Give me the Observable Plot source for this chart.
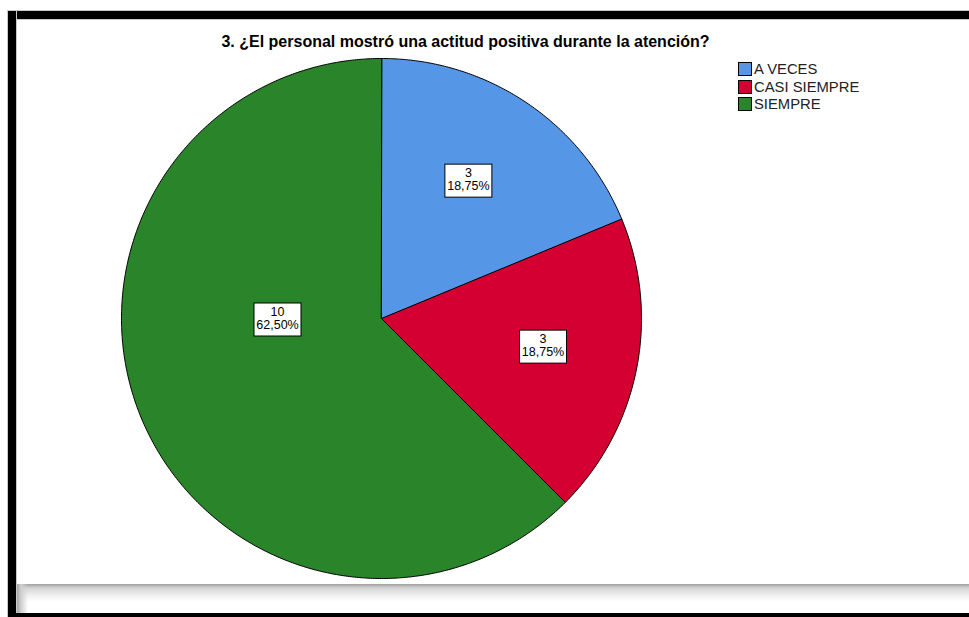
<!DOCTYPE html>
<html>
<head>
<meta charset="utf-8">
<script src="https://cdn.jsdelivr.net/npm/d3@7"></script>
<script src="https://cdn.jsdelivr.net/npm/@observablehq/plot@0.6"></script>
<style>
  html, body { margin: 0; padding: 0; background: #fff; }
  #page { position: relative; width: 969px; height: 617px; overflow: hidden; background: #fff;
          font-family: Arial, "Liberation Sans", sans-serif; }
  .blk { position: absolute; background: #000; }
  #title { position: absolute; left: 0; width: 931px; top: 33px; line-height: 18px; text-align: center;
           font-weight: bold; font-size: 16px; color: #000; white-space: nowrap; }
  #chart { position: absolute; left: 0; top: 0; }
  #legend { position: absolute; left: 738px; top: 62px; }
  .row { display: flex; align-items: flex-start; height: 17.5px; line-height: 17.5px; font-size: 14.8px; color: #222; }
  .sw { width: 12px; height: 12px; border: 1px solid #000; margin-top: 0px; margin-right: 2px; box-sizing: content-box; }
  .row span { margin-top: -1px; }
  #shadowB { position: absolute; left: 16px; top: 584px; width: 953px; height: 18px;
             background: linear-gradient(to bottom, #a0a0a0 0px, #d4d4d4 4px, #f2f2f2 12px, #ffffff 18px); }
  #shadowL { position: absolute; left: 16px; top: 584px; width: 12px; height: 29px;
             background: linear-gradient(to right, #9a9a9a 0px, #d0d0d0 5px, rgba(255,255,255,0) 12px); }
</style>
</head>
<body>
<div id="page">
  <div id="chart"></div>
  <div id="title"></div>
  <div id="legend"></div>
  <div id="shadowB"></div>
  <div id="shadowL"></div>
  <div class="blk" style="left:8px;top:11px;width:961px;height:8px;box-shadow:0 0 0 1px #c8c8c8;"></div>
  <div class="blk" style="left:8px;top:11px;width:8px;height:606px;box-shadow:0 0 0 1px #c8c8c8;"></div>
  <div class="blk" style="left:8px;top:613px;width:961px;height:4px;"></div>
</div>
<script>
// ---- data ----
const title = "3. ¿El personal mostró una actitud positiva durante la atención?";
const categories = ["A VECES", "CASI SIEMPRE", "SIEMPRE"];
const counts = [3, 3, 10];
const colors = ["#5597e6", "#d50032", "#2a852a"];

// ---- derived ----
const total = d3.sum(counts);
const arcs = d3.pie().sort(null).value(d => d)(counts);

const slicePts = [];
arcs.forEach((p, i) => {
  const n = Math.max(2, Math.ceil((p.endAngle - p.startAngle) / (Math.PI / 360)));
  slicePts.push({cat: categories[i], x: 0, y: 0});
  for (let k = 0; k <= n; k++) {
    const a = p.startAngle + (p.endAngle - p.startAngle) * k / n;
    slicePts.push({cat: categories[i], x: Math.sin(a), y: Math.cos(a)});
  }
});

const fmtPct = v => (v * 100).toFixed(2).replace(".", ",") + "%";
// label placement heuristic: small slices at mid-angle, the dominant slice
// a quarter turn back from its closing edge, nearer the centre
const labels = arcs.map((p, i) => {
  const frac = counts[i] / total;
  const big = frac > 0.5;
  const a = big ? p.endAngle - Math.PI / 2 : (p.startAngle + p.endAngle) / 2 - 0.03;
  const r = big ? 0.4 : 0.63;
  return {x: r * Math.sin(a), y: r * Math.cos(a), text: `${counts[i]}\n${fmtPct(frac)}`};
});

document.getElementById("title").textContent = title;

const chart = Plot.plot({
  width: 969,
  height: 617,
  margin: 0,
  x: {domain: [-1, 1], range: [121, 641], axis: null},
  y: {domain: [-1, 1], range: [578, 58], axis: null},
  color: {domain: categories, range: colors},
  style: {background: "transparent", overflow: "visible"},
  marks: [
    Plot.line(slicePts, {x: "x", y: "y", z: "cat", fill: "cat", stroke: "#000", strokeWidth: 1,
                         curve: "linear-closed", strokeLinejoin: "round"}),
    Plot.text(labels, {x: "x", y: "y", text: "text", fontSize: 12.5, lineHeight: 1.05, fill: "#000",
                       fontFamily: "Arial, 'Liberation Sans', sans-serif"})
  ]
});
document.getElementById("chart").appendChild(chart);

// white boxes behind the value labels
chart.querySelectorAll('g[aria-label="text"] text').forEach(t => {
  const b = t.getBBox();
  const rect = document.createElementNS("http://www.w3.org/2000/svg", "rect");
  rect.setAttribute("x", Math.round(b.x - 3) + 0.5);
  rect.setAttribute("y", Math.round(b.y - 3) + 0.5);
  rect.setAttribute("width", Math.round(b.width + 5));
  rect.setAttribute("height", Math.round(b.height + 6));
  rect.setAttribute("fill", "#fff");
  rect.setAttribute("stroke", "#000");
  rect.setAttribute("stroke-width", "1");
  if (t.getAttribute("transform")) rect.setAttribute("transform", t.getAttribute("transform"));
  t.parentNode.insertBefore(rect, t);
});

// legend
const legend = document.getElementById("legend");
categories.forEach((c, i) => {
  const row = document.createElement("div");
  row.className = "row";
  const sw = document.createElement("div");
  sw.className = "sw";
  sw.style.background = colors[i];
  const s = document.createElement("span");
  s.textContent = c;
  row.appendChild(sw);
  row.appendChild(s);
  legend.appendChild(row);
});
</script>
</body>
</html>
